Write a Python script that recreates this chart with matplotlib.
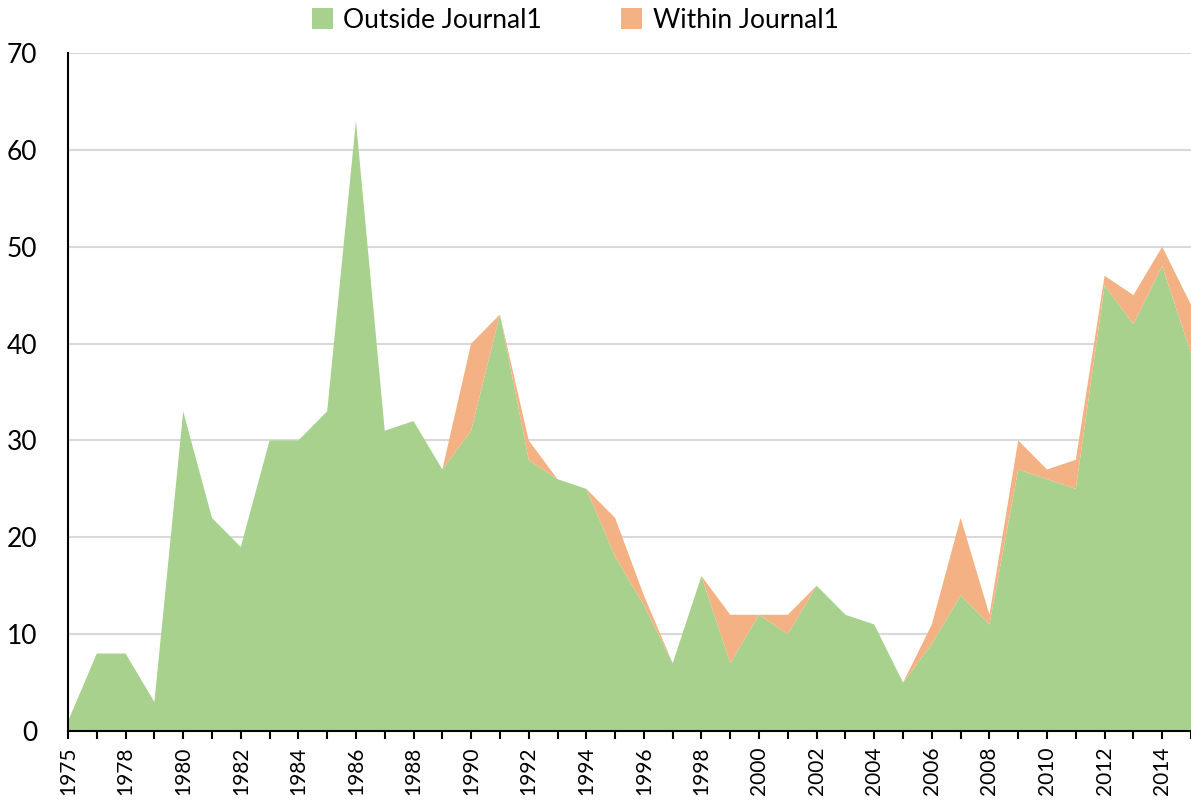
import matplotlib.pyplot as plt
from matplotlib.patches import Patch

# Data (1976 is absent from the category axis)
years = [1975] + list(range(1977, 2016))
outside = [1, 8, 8, 3, 33, 22, 19, 30, 30, 33, 63, 31, 32, 27, 31, 43, 28, 26, 25, 18,
           13, 7, 16, 7, 12, 10, 15, 12, 11, 5, 9, 14, 11, 27, 26, 25, 46, 42, 48, 39]
within = [0, 0, 0, 0, 0, 0, 0, 0, 0, 0, 0, 0, 0, 0, 9, 0, 2, 0, 0, 4,
          1, 0, 0, 5, 0, 2, 0, 0, 0, 0, 2, 8, 1, 3, 1, 3, 1, 3, 2, 5]
series_names = ["Outside Journal1", "Within Journal1"]
colors = ["#A9D18E", "#F4B183"]

plt.rcParams['font.family'] = ['Lato', 'DejaVu Sans']

fig = plt.figure(figsize=(11.91, 8.05), dpi=100)
ax = fig.add_axes([68 / 1191, 1 - 731 / 805, 1 - 68 / 1191, (731 - 53) / 805])

x = list(range(len(years)))
ax.stackplot(x, outside, within, colors=colors, linewidth=0, zorder=2)

ax.set_ylim(0, 70)
ax.set_xlim(0, 38 + 23 / 28.95)
ax.set_yticks(range(0, 71, 10))
ax.yaxis.grid(True, color="#D9D9D9", linewidth=1.5, zorder=0)
ax.set_axisbelow(True)

ax.set_xticks(x)
ax.set_xticklabels([str(y) if i % 2 == 0 else "" for i, y in enumerate(years)],
                   rotation=90, fontsize=15)
ax.tick_params(axis='x', length=6, width=1.5, pad=5, colors='black')
ax.tick_params(axis='y', length=0, pad=22, labelsize=19)

for s in ["top", "right"]:
    ax.spines[s].set_visible(False)
ax.spines["left"].set_linewidth(1.5)
ax.spines["bottom"].set_linewidth(1.5)
ax.spines["bottom"].set_zorder(3)

handles = [Patch(facecolor=c, edgecolor='none') for c in colors]
fig.legend(handles, series_names, loc='center', bbox_to_anchor=(0.483, 0.975),
           ncol=2, frameon=False, fontsize=19, handlelength=0.8, handleheight=0.8,
           handletextpad=0.4, columnspacing=3.0)

fig.savefig("out.png", dpi=100)
